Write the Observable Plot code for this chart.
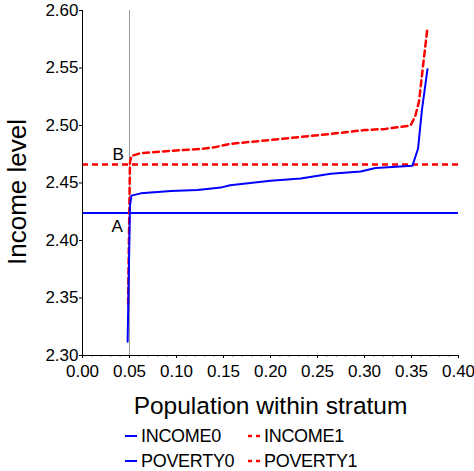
<!DOCTYPE html>
<html>
<head>
<meta charset="utf-8">
<script src="https://cdn.jsdelivr.net/npm/d3@7"></script>
<script src="https://cdn.jsdelivr.net/npm/@observablehq/plot@0.6"></script>
<style>
  html, body { margin: 0; padding: 0; background: #fff; }
  body { width: 474px; font-family: "Liberation Sans", Arial, sans-serif; }
  #legend { position: relative; height: 51px; font-size: 18px; color: #000; }
  .item { position: absolute; display: flex; align-items: center; line-height: 18px; letter-spacing: -0.3px; }
  .item svg { margin-right: 3px; }
</style>
</head>
<body>
<div id="chart"></div>
<div id="legend"></div>
<script>
// ---- data ----
const income0X = [0.048, 0.0505, 0.052, 0.062, 0.094, 0.122, 0.135, 0.147, 0.157, 0.200, 0.232, 0.264, 0.296, 0.306, 0.312, 0.351, 0.357, 0.361, 0.367];
const income0Y = [2.312, 2.430, 2.439, 2.441, 2.443, 2.444, 2.445, 2.446, 2.448, 2.452, 2.454, 2.458, 2.460, 2.462, 2.463, 2.465, 2.480, 2.513, 2.549];
const income1X = [0.0485, 0.0505, 0.052, 0.062, 0.094, 0.126, 0.140, 0.157, 0.232, 0.264, 0.300, 0.322, 0.349, 0.354, 0.358, 0.362, 0.367];
const income1Y = [2.345, 2.468, 2.4735, 2.476, 2.478, 2.4796, 2.481, 2.484, 2.490, 2.4927, 2.496, 2.497, 2.500, 2.508, 2.521, 2.550, 2.585];
const poverty0 = 2.424;
const poverty1 = 2.466;
const stratumLine = 0.05;
const xDomain = [0, 0.40];
const yDomain = [2.30, 2.60];
const xTicks = [0, 0.05, 0.10, 0.15, 0.20, 0.25, 0.30, 0.35, 0.40];
const yTicks = [2.30, 2.35, 2.40, 2.45, 2.50, 2.55, 2.60];
const xMinor = d3.range(0, 41).map(i => i / 100);
const annotations = [{label: "A", x: 0.037, y: 2.4125}, {label: "B", x: 0.038, y: 2.475}];
const xTitle = "Population within stratum";
const yTitle = "Income level";
const legendItems = [
  {name: "INCOME0", color: "#0000ff", dash: false},
  {name: "INCOME1", color: "#ff0000", dash: true},
  {name: "POVERTY0", color: "#0000ff", dash: false},
  {name: "POVERTY1", color: "#ff0000", dash: true}
];

const inc0 = income0X.map((x, i) => ({x, y: income0Y[i]}));
const inc1 = income1X.map((x, i) => ({x, y: income1Y[i]}));

const font = "Liberation Sans, Arial, sans-serif";

const chart = Plot.plot({
  width: 474,
  height: 420,
  marginLeft: 82,
  marginRight: 16,
  marginTop: 10,
  marginBottom: 65,
  style: {fontFamily: font, fontSize: "17px", background: "#fff", color: "#000", overflow: "visible"},
  x: {domain: xDomain, label: null, axis: null},
  y: {domain: yDomain, label: null, axis: null},
  marks: [
    Plot.axisX({ticks: xMinor, tickSize: 2, tickFormat: () => "", label: null, stroke: "#444", strokeWidth: 0.6}),
    Plot.axisX({ticks: xTicks, tickSize: 3, tickPadding: 6, tickFormat: d3.format(".2f"), fontSize: 17, label: null, stroke: "#000"}),
    Plot.axisY({ticks: yTicks, tickSize: 3, tickPadding: 1, tickFormat: d3.format(".2f"), fontSize: 17, label: null, stroke: "#000"}),
    Plot.ruleX([stratumLine], {stroke: "#999", strokeWidth: 1}),
    Plot.ruleY([poverty0], {stroke: "#0000ff", strokeWidth: 2}),
    Plot.ruleY([poverty1], {stroke: "#ff0000", strokeWidth: 2.5, strokeDasharray: "6,4"}),
    Plot.line(inc1, {x: "x", y: "y", stroke: "#ff0000", strokeWidth: 2.5, strokeDasharray: "6,4"}),
    Plot.line(inc0, {x: "x", y: "y", stroke: "#0000ff", strokeWidth: 2}),
    Plot.text(annotations, {x: "x", y: "y", text: "label", fontSize: 17, fill: "#000"}),
    Plot.ruleX([xDomain[0]], {stroke: "#000", strokeWidth: 1}),
    Plot.ruleY([yDomain[0]], {stroke: "#000", strokeWidth: 1}),
    Plot.text([xTitle], {frameAnchor: "bottom", dy: 58, fontSize: 24.5, fill: "#000", wordSpacing: 5}),
    Plot.text([yTitle], {frameAnchor: "left", textAnchor: "middle", dx: -65, dy: 9, rotate: -90, fontSize: 26, fill: "#000"})
  ]
});
document.getElementById("chart").appendChild(chart);

// legend
const legend = d3.select("#legend");
const pos = [{left: 124, top: 7}, {left: 247, top: 7}, {left: 124, top: 32}, {left: 247, top: 32}];
legendItems.forEach((it, i) => {
  const d = legend.append("div").attr("class", "item").style("left", pos[i].left + "px").style("top", pos[i].top + "px");
  const s = d.append("svg").attr("width", 14).attr("height", 10);
  s.append("line").attr("x1", 1).attr("x2", 13).attr("y1", 5).attr("y2", 5)
    .attr("stroke", it.color).attr("stroke-width", it.dash ? 2.5 : 2)
    .attr("stroke-dasharray", it.dash ? "4,4" : null);
  d.append("span").text(it.name);
});
</script>
</body>
</html>
